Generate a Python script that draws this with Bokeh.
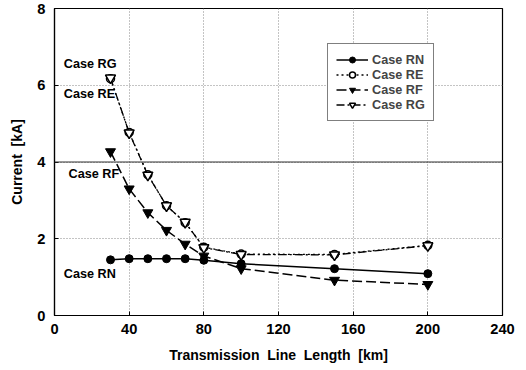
from bokeh.plotting import figure
from bokeh.models import Range1d, FixedTicker, Span, Legend, LegendItem, Label
from bokeh.embed import file_html
from bokeh.resources import INLINE

length_km = [30, 40, 50, 60, 70, 80, 100, 150, 200]
case_rn = [1.45, 1.48, 1.48, 1.48, 1.48, 1.44, 1.35, 1.22, 1.09]
case_re = [6.17, 4.77, 3.67, 2.86, 2.42, 1.78, 1.60, 1.59, 1.83]
case_rf = [4.27, 3.30, 2.68, 2.22, 1.86, 1.55, 1.22, 0.92, 0.81]
case_rg = [6.19, 4.76, 3.66, 2.86, 2.43, 1.77, 1.59, 1.58, 1.82]

x_ticks = [0, 40, 80, 120, 160, 200, 240]
y_ticks = [0, 2, 4, 6, 8]

case_labels = ["Case RG", "Case RE", "Case RF", "Case RN"]
case_label_x = [5, 5, 7.5, 5]
case_label_y = [6.56, 5.78, 3.70, 1.07]

FONT = "Liberation Sans"
NB = "\u00a0"

p = figure(width=516, height=366, output_backend="svg", toolbar_location=None,
           x_range=Range1d(0, 240), y_range=Range1d(0, 8),
           min_border_left=54, min_border_right=14, min_border_top=8, min_border_bottom=51)

p.background_fill_color = "white"
p.border_fill_color = "white"
p.outline_line_color = "black"
p.outline_line_width = 1.2

for ax in (p.xaxis, p.yaxis):
    ax.major_label_text_font = FONT
    ax.major_label_text_font_style = "bold"
    ax.major_label_text_font_size = "11pt"
    ax.major_label_text_color = "black"
    ax.axis_label_text_font = FONT
    ax.axis_label_text_font_style = "bold"
    ax.axis_label_text_font_size = "10.5pt"
    ax.axis_label_text_color = "black"
    ax.axis_line_color = "black"
    ax.axis_line_width = 1.2
    ax.major_tick_in = 4
    ax.major_tick_out = 0
    ax.minor_tick_line_color = None
    ax.major_tick_line_color = "black"

p.xaxis.ticker = FixedTicker(ticks=x_ticks)
p.yaxis.ticker = FixedTicker(ticks=y_ticks)
p.xaxis.axis_label = "Transmission" + NB * 2 + "Line" + NB * 2 + "Length" + NB * 2 + "[km]"
p.yaxis.axis_label = "Current" + NB * 2 + "[kA]"
p.xaxis.axis_label_standoff = 10
p.yaxis.axis_label_standoff = 9
p.xaxis.major_label_standoff = 8
p.yaxis.major_label_standoff = 9

p.xgrid.grid_line_color = "#888888"
p.xgrid.grid_line_dash = "1 2"
p.ygrid.grid_line_color = "#888888"
p.ygrid.grid_line_dash = "1 2"

p.add_layout(Span(location=4, dimension="width", line_color="#333333", line_width=1.2))

r_rn_l = p.line(length_km, case_rn, line_color="black", line_width=1.5)
r_rn_m = p.scatter(length_km, case_rn, marker="circle", size=8, fill_color="black", line_color="black")

r_re_l = p.line(length_km, case_re, line_color="black", line_width=1.3, line_dash="2 3")
r_re_m = p.scatter(length_km, case_re, marker="circle", size=8, fill_color="white", line_color="black", line_width=1.5)

r_rf_l = p.line(length_km, case_rf, line_color="black", line_width=1.5, line_dash="10 4")
r_rf_m = p.scatter(length_km, case_rf, marker="inverted_triangle", size=10, fill_color="black", line_color="black")

r_rg_l = p.line(length_km, case_rg, line_color="black", line_width=1.3, line_dash="8 3 2 3")
r_rg_m = p.scatter(length_km, case_rg, marker="inverted_triangle", size=10, fill_color="white", line_color="black", line_width=1.5)

legend = Legend(items=[
    LegendItem(label="Case RN", renderers=[r_rn_l, r_rn_m]),
    LegendItem(label="Case RE", renderers=[r_re_l, r_re_m]),
    LegendItem(label="Case RF", renderers=[r_rf_l, r_rf_m]),
    LegendItem(label="Case RG", renderers=[r_rg_l, r_rg_m]),
], location=(273, 194))
legend.label_text_font = FONT
legend.label_text_font_style = "bold"
legend.label_text_font_size = "9.5pt"
legend.border_line_color = "black"
legend.border_line_width = 1.2
legend.background_fill_alpha = 1
legend.padding = 8
legend.spacing = 0
legend.glyph_width = 32
legend.glyph_height = 15
legend.label_height = 15
legend.label_standoff = 4
legend.margin = 0
p.add_layout(legend)

for txt, lx, ly in zip(case_labels, case_label_x, case_label_y):
    p.add_layout(Label(x=lx, y=ly, text=txt, text_font=FONT, text_font_style="bold",
                       text_font_size="9.5pt", text_baseline="middle", text_color="black"))

open("out.html", "w").write(file_html(p, INLINE))
